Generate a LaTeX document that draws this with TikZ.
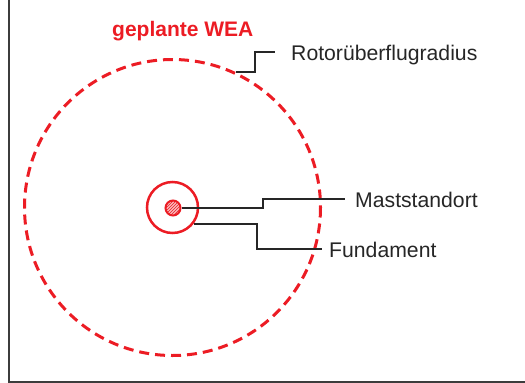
\documentclass[tikz,border=0pt]{standalone}
\usepackage{fontspec}
\setmainfont{Liberation Sans}
\usetikzlibrary{patterns}
\definecolor{wred}{RGB}{236,28,36}
\definecolor{frameg}{RGB}{60,60,60}
\tikzset{
  lbl/.style={anchor=base west,inner sep=0pt,font=\fontsize{21.2}{25}\selectfont,text=black!85},
  leader/.style={draw=black!85,line width=2pt},
  framel/.style={draw=frameg,line width=2pt},
}
\begin{document}
\begin{tikzpicture}[x=1pt,y=-1pt]
\useasboundingbox (0,0) rectangle (525,383);
\draw[framel] (8.5,0) -- (8.5,382) -- (525,382);
% circles
\coordinate (c) at (172.5,207.5);
\draw[wred,line width=3pt,dash pattern=on 10pt off 6pt] (c) circle[radius=148];
\node[circle,draw=wred,line width=2.5pt,minimum size=51pt,inner sep=0pt] (fund) at (c) {};
\node[circle,draw=wred,line width=2pt,minimum size=15pt,inner sep=0pt,fill=wred!30,postaction={pattern=north east lines,pattern color=wred}] (mast) at (173,208) {};
% labels
\node[lbl,text=wred,font=\fontsize{21}{25}\selectfont\bfseries] (title) at (112,36) {geplante WEA};
\node[lbl] (rotor) at (291,60) {Rotorüberflugradius};
\node[lbl] (mastl) at (355,207) {Maststandort};
\node[lbl] (fundl) at (329,257) {Fundament};
% leaders
\coordinate (rp) at (236,72);
\draw[leader] (rp) -- (255,72) -- (255,52) -- (275,52);
\draw[leader] (mast.east) -| (263,199) -- (345,199);
\draw[leader] (fund.-37) -| (257,249) -- (322,249);
\end{tikzpicture}
\end{document}
